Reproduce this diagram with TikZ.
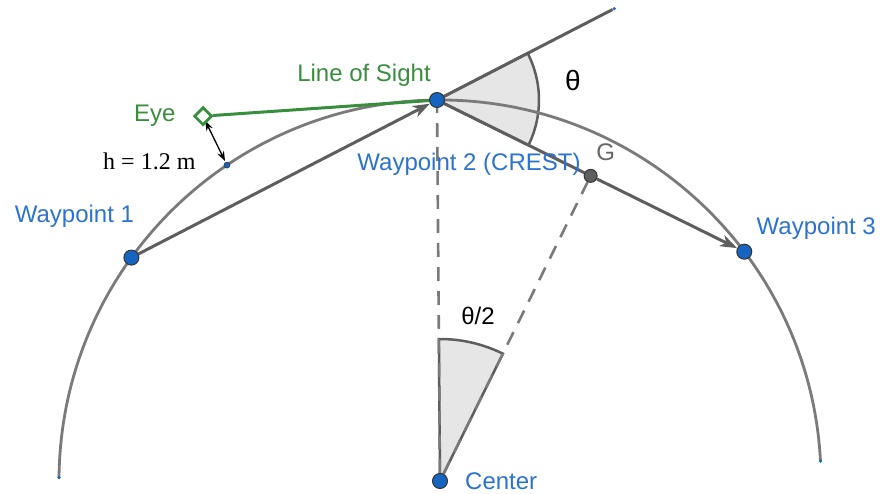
\documentclass[tikz,border=0pt]{standalone}
\usepackage{fontspec}
\setmainfont{Liberation Sans}
\newfontfamily\hfont{Liberation Serif}
\usetikzlibrary{positioning, arrows.meta, backgrounds, shapes.geometric, calc}
\definecolor{ptblue}{HTML}{1565C0}
\definecolor{lblblue}{HTML}{2B73CF}
\definecolor{sightgreen}{HTML}{388E3C}
\definecolor{linegray}{HTML}{5E5E5E}
\definecolor{arcgray}{HTML}{7A7A7A}
\definecolor{sectorfill}{HTML}{E6E6E6}

\begin{document}
\begin{tikzpicture}[
    x=1pt, y=1pt,
    font=\fontsize{24}{28}\selectfont,
    wpt/.style={circle, draw=black!80, line width=1pt, fill=ptblue, minimum size=15pt, inner sep=0pt},
    gpt/.style={wpt, fill=linegray, minimum size=13pt},
    tinypt/.style={circle, fill=ptblue, minimum size=3.5pt, inner sep=0pt},
    smallpt/.style={circle, draw=black!80, line width=0.6pt, fill=ptblue, minimum size=6pt, inner sep=0pt},
    eyept/.style={diamond, draw=sightgreen, line width=2.8pt, fill=white, minimum size=18pt, inner sep=0pt},
    lbl/.style={text=lblblue, inner sep=0pt},
    chord/.style={draw=linegray, line width=3pt},
    chordarr/.style={chord, -{Stealth[length=17pt, width=12pt, inset=5pt]}},
    arcline/.style={draw=arcgray, line width=2.8pt},
    radial/.style={draw=arcgray, line width=2.6pt, dash pattern=on 14pt off 10pt},
    sector/.style={fill=sectorfill, draw=linegray, line width=2.5pt},
    sight/.style={draw=sightgreen, line width=3pt},
    harr/.style={{Stealth[length=10pt, width=7pt]}-{Stealth[length=10pt, width=7pt]}, line width=1.3pt, shorten <=5pt, shorten >=1pt}
]
\useasboundingbox (-440,-13) rectangle (440,481);

% --- Points on the curve ---
\node[wpt] (C) at (0,0) {};
\node[wpt] (W1) at (144.1:381) {};
\node[wpt] (W2) at (90.45:381) {};
\node[wpt] (W3) at (37:381) {};
\node[gpt] (G) at ($(W2)!0.5!(W3)$) {};
\node[smallpt] (P) at (124:381) {};
\node[eyept] (Eye) at (123:435) {};
\node[tinypt] (E) at ($(W1)!1.58!(W2)$) {};
\node[tinypt] (A0) at (3:381) {};
\node[tinypt] (A1) at (179.5:381) {};

% --- Labels ---
\node[lbl, above=22pt of W1, xshift=-57pt] (W1lbl) {Waypoint 1};
\node[lbl, below=45pt of W2, xshift=32pt] (W2lbl) {Waypoint 2 (CREST)};
\node[lbl, above=4pt of W3, xshift=72pt] (W3lbl) {Waypoint 3};
\node[lbl, right=17pt of C] (Clbl) {Center};
\node[text=sightgreen, inner sep=0pt, left=17pt of Eye] (Eyelbl) {Eye};
\node[text=sightgreen, inner sep=0pt, above=5pt of W2, xshift=-73pt] (LoS) {Line of Sight};
\node[inner sep=0pt, left=28pt of P, yshift=4pt, font=\hfont\fontsize{24}{28}\selectfont] (hlbl) {h = 1.2 m};
\node[text=black!60, inner sep=0pt, above=8pt of G, xshift=15pt] (Glbl) {G};
\node[inner sep=0pt, right=120pt of W2, yshift=20pt, font=\fontsize{28}{33}\selectfont] (th) {θ};
\node[inner sep=0pt, above=148pt of C, xshift=38pt] (th2) {θ/2};

\begin{scope}[on background layer]
% --- Angle sectors ---
\filldraw[sector] (W2.center) -- ++(27.3:102) arc[start angle=27.3, end angle=-26.3, radius=102] -- cycle;
\filldraw[sector] (C.center) -- ++(90.45:142) arc[start angle=90.45, end angle=63.7, radius=142] -- cycle;

% --- Curve, radii and chords ---
\draw[arcline] (A0.center) arc[start angle=3, end angle=179.5, radius=381];
\draw[radial] (C) -- (W2);
\draw[radial] (C) -- (G);
\draw[chord] (W2) -- (E);
\draw[chordarr] (W1) -- (W2);
\draw[chord] (W2) -- (G);
\draw[chordarr] (G) -- (W3);

% --- Eye and sight ---
\draw[sight] (Eye) -- (W2);
\draw[harr] (Eye.center) -- (P);
\end{scope}

\end{tikzpicture}
\end{document}
